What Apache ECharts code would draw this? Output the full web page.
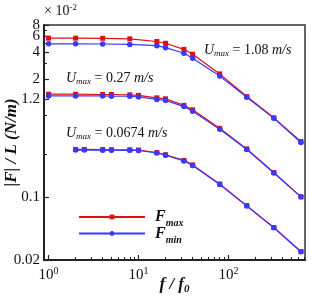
<!DOCTYPE html>
<html><head><meta charset="utf-8">
<script src="https://cdn.jsdelivr.net/npm/echarts@6/dist/echarts.min.js"></script>
<style>html,body{margin:0;padding:0;background:#fff}#c{width:332px;height:296px}</style>
</head><body><div id="c"></div>
<script>
// ---- data (values in units of 1e-2 N/m) ----
const fTop = [1,2,4,8,16,20,32,40,80,160,320,640];
const topMax = [5.72,5.72,5.7,5.62,5.25,5.02,4.3,3.8,2.3,1.29,0.75,0.41];
const topMin = [4.95,4.95,4.93,4.88,4.72,4.49,3.89,3.42,2.18,1.27,0.74,0.40];
const fMid = [1,2,4,5,8,10,16,20,32,40,80,160,320,640];
const midMax = [1.37,1.37,1.36,1.36,1.35,1.33,1.25,1.22,1.03,0.92,0.574,0.34,0.186,0.100];
const midMin = [1.31,1.31,1.31,1.30,1.30,1.28,1.20,1.17,1.0,0.89,0.56,0.335,0.184,0.100];
const fLow = [2,2.5,4,5,8,10,16,20,32,40,80,160,320,640];
const lowMax = [0.335,0.335,0.334,0.333,0.332,0.330,0.310,0.293,0.254,0.226,0.139,0.080,0.0458,0.0248];
const lowMin = [0.330,0.330,0.329,0.329,0.328,0.327,0.306,0.289,0.250,0.222,0.137,0.0790,0.0455,0.0247];
const yTickLabelsA = [8,4,1.2,0.02];
const yTickLabelsB = [6,2,0.1];
const yMinorTicks = [7,5,3,0.8,0.3];
const xTickLabels = [1,10,100];
const xMinorTicks = [2,3,4,5,6,7,8,9,20,30,40,50,60,70,80,90,200,300,400,500,600,700];
const xRange = [0.89, 710];
const yRange = [0.02, 8];

const L = Math.log10;
const pts = (xs, ys) => xs.map((x, i) => [L(x), L(ys[i])]);
const nearest = (arr, v) => arr.reduce((a, b) => Math.abs(L(b) - v) < Math.abs(L(a) - v) ? b : a);

const RED = '#e01010', BLUE = '#3838ff';
const font = 'Liberation Serif';
const chart = echarts.init(document.getElementById('c'), null, {renderer: 'canvas'});

function mk(name, xs, ys, color, sym) {
  return {name, type: 'line', data: pts(xs, ys), symbol: sym, symbolSize: sym === 'rect' ? 5 : 5.5,
    lineStyle: {color, width: 1.2}, itemStyle: {color}, color, z: sym === 'rect' ? 2 : 3,
    animation: false, emphasis: {disabled: true}};
}

const axisCommon = {type: 'value', splitLine: {show: false}};
const yLabelStyle = {fontFamily: font, fontSize: 15, color: '#111', margin: 4, hideOverlap: false};
chart.setOption({
  animation: false,
  grid: {left: 44, right: 27, top: 25, bottom: 36, containLabel: false, outerBoundsMode: 'none',
    show: true, borderColor: '#333', borderWidth: 1.5, backgroundColor: 'transparent'},
  xAxis: [
    Object.assign({}, axisCommon, {
      position: 'bottom',
      min: L(xRange[0]), max: L(xRange[1]),
      axisLine: {show: true, onZero: false, lineStyle: {color: '#222', width: 2}},
      axisTick: {show: true, inside: true, length: 5, customValues: xTickLabels.map(L), lineStyle: {color: '#222', width: 1.2}},
      axisLabel: {show: true, customValues: xTickLabels.map(L), margin: 6, hideOverlap: false,
        formatter: v => '10{sup|' + Math.round(v) + '}',
        fontFamily: font, fontSize: 15, color: '#111',
        rich: {sup: {fontFamily: font, fontSize: 10, verticalAlign: 'top', padding: [0, 0, 9, 0], color: '#111'}}},
      name: '{b|f / f}{s|0}', nameLocation: 'middle', nameGap: 15, nameMoveOverlap: false,
      nameTextStyle: {rich: {
        b: {fontFamily: font, fontSize: 17, fontWeight: 'bold', fontStyle: 'italic', color: '#111', lineHeight: 20},
        s: {fontFamily: font, fontSize: 11, fontWeight: 'bold', fontStyle: 'italic', color: '#111', verticalAlign: 'bottom', padding: [6, 0, 0, 0]}}}
    }),
    Object.assign({}, axisCommon, {
      position: 'bottom',
      min: L(xRange[0]), max: L(xRange[1]),
      axisLine: {show: false, onZero: false},
      axisTick: {show: true, inside: true, length: 3, customValues: xMinorTicks.map(L), lineStyle: {color: '#222', width: 1}},
      axisLabel: {show: false}
    })
  ],
  yAxis: [
    Object.assign({}, axisCommon, {
      position: 'left',
      min: L(yRange[0]), max: L(yRange[1]),
      axisLine: {show: true, onZero: false, lineStyle: {color: '#222', width: 2}},
      axisTick: {show: true, inside: true, length: 5, customValues: yTickLabelsA.concat(yTickLabelsB).map(L), lineStyle: {color: '#222', width: 1.2}},
      axisLabel: Object.assign({show: true, customValues: yTickLabelsA.map(L),
        formatter: v => String(nearest(yTickLabelsA, v))}, yLabelStyle),
      name: '|F| / L (N/m)', nameLocation: 'middle', nameGap: 24, nameRotate: 90, nameMoveOverlap: false,
      nameTextStyle: {fontFamily: font, fontSize: 17, fontWeight: 'bold', fontStyle: 'italic', color: '#111'}
    }),
    Object.assign({}, axisCommon, {
      position: 'left',
      min: L(yRange[0]), max: L(yRange[1]),
      axisLine: {show: false, onZero: false},
      axisTick: {show: true, inside: true, length: 3, customValues: yMinorTicks.map(L), lineStyle: {color: '#222', width: 1}},
      axisLabel: Object.assign({show: true, customValues: yTickLabelsB.map(L),
        formatter: v => String(nearest(yTickLabelsB, v))}, yLabelStyle)
    })
  ],
  legend: {
    data: ['Fmax', 'Fmin'], orient: 'vertical', left: 78, top: 209, itemWidth: 66, itemHeight: 6, itemGap: -3,
    selectedMode: false, padding: 0,
    formatter: n => '{b|F}{s|' + n.slice(1) + '}',
    textStyle: {rich: {
      b: {fontFamily: font, fontSize: 16, fontWeight: 'bold', fontStyle: 'italic', color: '#111', lineHeight: 15, padding: [0, 0, 0, 5]},
      s: {fontFamily: font, fontSize: 10, fontWeight: 'bold', fontStyle: 'italic', color: '#111', verticalAlign: 'bottom', lineHeight: 10, padding: [0, 0, -4, 0]}}}
  },
  graphic: [
    {type: 'text', left: 44, top: 3, style: {rich: {
        a: {fontFamily: font, fontSize: 14, fill: '#111'},
        sup: {fontFamily: font, fontSize: 9, fill: '#111', verticalAlign: 'top', padding: [0, 0, 8, 0]}},
      text: '{a|× 10}{sup|-2}'}},
    ...[['1.08', 204, 43], ['0.27', 66, 71], ['0.0674', 66, 126]].map(([u, x, y]) => ({
      type: 'text', left: x, top: y, style: {
        text: '{i|U}{s|max}{n| = ' + u + ' }{i|m/s}',
        rich: {
          i: {fontFamily: font, fontSize: 14, fontStyle: 'italic', fill: '#111', lineHeight: 16},
          s: {fontFamily: font, fontSize: 9, fontStyle: 'italic', fill: '#111', verticalAlign: 'bottom', padding: [5, 0, 0, 0]},
          n: {fontFamily: font, fontSize: 14, fill: '#111', lineHeight: 16}}}}))
  ],
  series: [
    mk('Fmax', fTop, topMax, RED, 'rect'),
    mk('Fmax', fMid, midMax, RED, 'rect'),
    mk('Fmax', fLow, lowMax, RED, 'rect'),
    mk('Fmin', fTop, topMin, BLUE, 'circle'),
    mk('Fmin', fMid, midMin, BLUE, 'circle'),
    mk('Fmin', fLow, lowMin, BLUE, 'circle')
  ]
});
</script></body></html>
